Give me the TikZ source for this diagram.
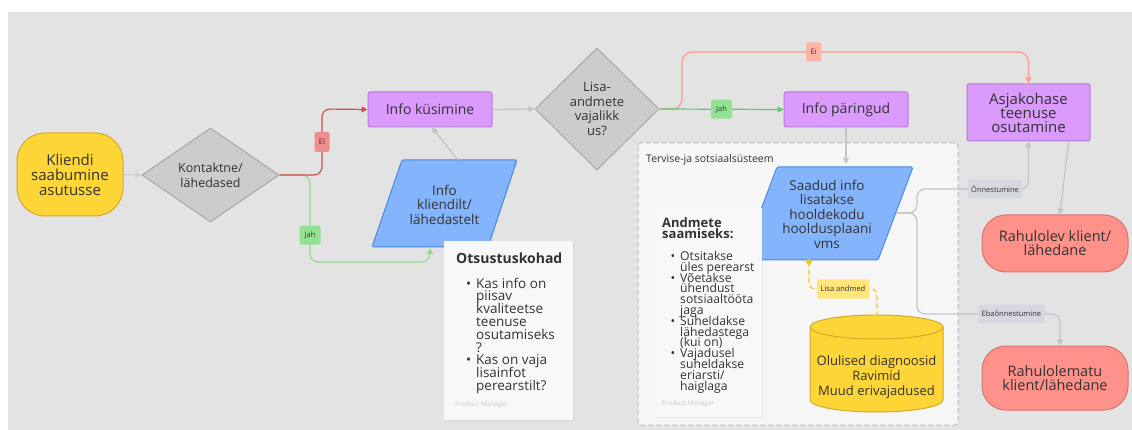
\documentclass[tikz,border=0pt]{standalone}
\usepackage{fontspec}
\setmainfont{Open Sans}
\usetikzlibrary{arrows.meta,shadows,shapes.geometric}

\definecolor{canvas}{HTML}{E3E3E3}
\definecolor{ink}{HTML}{333333}
\definecolor{yelf}{HTML}{FDD536}
\definecolor{yeld}{HTML}{D2A92C}
\definecolor{decf}{HTML}{CECBCC}
\definecolor{decd}{HTML}{A9A7A8}
\definecolor{purf}{HTML}{DA9BFC}
\definecolor{purd}{HTML}{B47AD6}
\definecolor{bluf}{HTML}{84B5FC}
\definecolor{blud}{HTML}{4C87DC}
\definecolor{redf}{HTML}{FF918B}
\definecolor{redd}{HTML}{D6746E}
\definecolor{edgegray}{HTML}{C4C4C4}
\definecolor{noref}{HTML}{F8F8F8}
\definecolor{grpf}{HTML}{F6F6F6}
\definecolor{grpd}{HTML}{BDBDBD}
\definecolor{nored}{HTML}{D24E4C}
\definecolor{noredlbl}{HTML}{F08D8D}
\definecolor{yesg}{HTML}{8EDD8E}
\definecolor{yesglbl}{HTML}{93E193}
\definecolor{yesgdark}{HTML}{5CCB6A}
\definecolor{salm}{HTML}{FF9C8E}
\definecolor{salmlbl}{HTML}{FFB4A4}
\definecolor{neutlbl}{HTML}{D5D9DF}
\definecolor{ydash}{HTML}{F4C526}
\definecolor{ylbl}{HTML}{FFE57A}
\definecolor{faint}{HTML}{C9C9C9}

% bullet hung into the left margin of a line
\newcommand{\blt}{\llap{\textbullet\hspace{5pt}}}
% fixed line pitch, even where lines are tall
\newcommand{\tightlines}{\lineskiplimit=-20pt\relax\lineskip=0pt\relax}

\tikzset{
  box/.style={draw, line width=1pt, inner sep=0pt, align=center, text=ink},
  procbox/.style={box, fill=purf, draw=purd, rounded corners=2pt},
  termbox/.style={box, rounded corners=24pt},
  txt/.style={inner sep=0pt, align=center, text=ink},
  conn/.style={line width=1.2pt, draw=edgegray, -{Triangle[length=6pt,width=6pt]}},
  lbl/.style={inner sep=0pt, rounded corners=2pt, minimum height=19pt, text=ink,
    font=\fontsize{7.5}{8}\selectfont},
  notecard/.style={fill=noref, draw=none,
    drop shadow={shadow xshift=0.6pt, shadow yshift=-1.4pt, opacity=0.13}},
  notetext/.style={anchor=north west, inner sep=0pt, text=ink, align=left},
}

\begin{document}
\begin{tikzpicture}[x=1pt,y=-1pt]
\useasboundingbox (0,0) rectangle (1132,430);
\fill[white] (0,0) rectangle (1132,430);
\fill[canvas] (8,12) rectangle (1132,430);

% ---- left part -------------------------------------------------------
\node[termbox, fill=yelf, draw=yeld, minimum width=106pt, minimum height=83pt,
  rounded corners=28pt, font=\fontsize{15}{15}\selectfont] (start) at (70,174.5)
  {Kliendi\\saabumine\\asutusse};

\node[diamond, draw=decd, fill=decf, line width=1pt, inner sep=0pt,
  minimum width=137pt, minimum height=94pt] (d1) at (210.5,175) {};
\node[txt, font=\fontsize{12.5}{15}\selectfont] at (d1) {Kontaktne/\\lähedased};

\node[procbox, minimum width=124pt, minimum height=35pt,
  font=\fontsize{14}{15}\selectfont] (ik) at (430,109.5) {Info küsimine};

% input parallelogram
\coordinate (p1tl) at (402,160);
\coordinate (p1tr) at (517,160);
\coordinate (p1br) at (488,247);
\coordinate (p1bl) at (372,247);
\filldraw[fill=bluf, draw=blud, line width=1pt, rounded corners=1.5pt]
  (p1tl) -- (p1tr) -- (p1br) -- (p1bl) -- cycle;
\node[txt, font=\fontsize{13.5}{14.5}\selectfont] (p1) at (444.5,204.5)
  {Info\\kliendilt/\\lähedastelt};
\coordinate (p1top) at (458,160);
\coordinate (p1bot) at (430,248);

\node[diamond, draw=decd, fill=decf, line width=1pt, inner sep=0pt,
  minimum width=124pt, minimum height=122pt] (d2) at (597,109) {};
\node[txt, font=\fontsize{13}{14.5}\selectfont] at (d2) {Lisa-\\andmete\\vajalikk\\us?};

% decision note
\path[notecard] (444,241) rectangle (573,420);
\node[anchor=west, inner sep=0pt, text=ink, font=\bfseries\fontsize{14}{15}\selectfont]
  (n1t) at (456,258) {Otsustuskohad};
\node[notetext, font=\fontsize{13.5}{12.8}\selectfont\tightlines]
  (n1b) at (476,277.5)
  {\blt Kas info on\\piisav\\kvaliteetse\\teenuse\\osutamiseks\\?\\
   \blt Kas on vaja\\lisainfot\\perearstilt?};
\node[anchor=west, inner sep=0pt, text=faint, font=\fontsize{6.5}{7}\selectfont]
  (n1f) at (455,405) {Product Manager};

% ---- health and social system group ----------------------------------
\filldraw[fill=grpf, draw=grpd, line width=1pt, dash pattern=on 5pt off 3pt,
  rounded corners=3pt] (638,143) rectangle (958,425);
\node[anchor=west, inner sep=0pt, text=ink, font=\fontsize{10.5}{11}\selectfont]
  (grp) at (646,160) {Tervise-ja sotsiaalsüsteem};

\coordinate (p2tl) at (777,167);
\coordinate (p2tr) at (913,167);
\coordinate (p2br) at (878,260);
\coordinate (p2bl) at (742,260);
\filldraw[fill=bluf, draw=blud, line width=1pt, rounded corners=1.5pt]
  (p2tl) -- (p2tr) -- (p2br) -- (p2bl) -- cycle;
\node[txt, font=\fontsize{13.5}{14.5}\selectfont] (p2) at (827,214)
  {Saadud info\\lisatakse\\hooldekodu\\hooldusplaani\\vms};
\coordinate (p2top) at (846,167);
\coordinate (p2right) at (896,213);
\coordinate (p2bot) at (809,262);

% data note
\path[notecard] (653,208) rectangle (762,417);
\node[notetext, font=\bfseries\fontsize{13}{11.2}\selectfont\tightlines]
  (n2t) at (662,217) {Andmete\\saamiseks:};
\node[notetext, font=\fontsize{12.2}{10.8}\selectfont\tightlines]
  (n2b) at (680,251)
  {\blt Otsitakse\\üles perearst\\
   \blt Võetakse\\ühendust\\sotsiaaltööta\\jaga\\
   \blt Suheldakse\\lähedastega\\(kui on)\\
   \blt Vajadusel\\suheldakse\\eriarsti/\\haiglaga};
\node[anchor=west, inner sep=0pt, text=faint, font=\fontsize{6.5}{7}\selectfont]
  (n2f) at (662,404) {Product Manager};

% database cylinder
\filldraw[fill=yelf, draw=yeld, line width=1pt]
  (810,327) -- (810,400) arc[start angle=180, end angle=0, x radius=66.5, y radius=12]
  -- (943,327) arc[start angle=0, end angle=-180, x radius=66.5, y radius=12] -- cycle;
\draw[draw=yeld, line width=1pt]
  (810,327) arc[start angle=180, end angle=0, x radius=66.5, y radius=12];
\node[txt, font=\fontsize{13}{15}\selectfont] (db) at (876.5,377)
  {Olulised diagnoosid\\Ravimid\\Muud erivajadused};
\coordinate (dbtop) at (877,316);

% ---- right part ------------------------------------------------------
\node[procbox, minimum width=124pt, minimum height=35pt,
  font=\fontsize{14}{15}\selectfont] (ip) at (846,109.5) {Info päringud};
\node[procbox, minimum width=123pt, minimum height=57pt,
  font=\fontsize{15}{14}\selectfont] (aj) at (1028.5,112.5) {Asjakohase\\teenuse\\osutamine};
\node[termbox, fill=redf, draw=redd, minimum width=146pt, minimum height=57pt,
  font=\fontsize{14.5}{14}\selectfont] (rl) at (1055,243.5) {Rahulolev klient/\\lähedane};
\node[termbox, fill=redf, draw=redd, minimum width=146pt, minimum height=64pt,
  font=\fontsize{14.5}{14}\selectfont] (rm) at (1055,378) {Rahulolematu\\klient/lähedane};

% ---- connectors ------------------------------------------------------
\draw[conn, draw=edgegray!80] (start.east) -- (d1.west);

\draw[conn, draw=yesg, rounded corners=8pt] (d1.east) -- (310,175)
  -- node[lbl, fill=yesglbl, minimum width=21pt, pos=0.69] {Jah} (310,262)
  -- (430,262) -- (p1bot);
\draw[conn, draw=nored, rounded corners=8pt] (d1.east) -- (322,175)
  -- node[lbl, fill=noredlbl, minimum width=15pt, minimum height=20pt] {EI} (322,109)
  -- (ik.west);

\draw[conn] (p1top) -- ([xshift=2pt]ik.south);
\draw[conn] (ik.east) -- (d2.west);

\draw[conn, draw=salm, rounded corners=10pt] (d2.east) -- (682,109) -- (682,52)
  -- node[lbl, fill=salmlbl, minimum width=15pt, pos=0.38] {Ei} (1028.5,52)
  -- (aj.north);
\draw[conn, draw=yesgdark] (d2.east)
  -- node[lbl, fill=yesglbl, minimum width=21pt, pos=0.5] {Jah} (ip.west);

\draw[conn] (ip.south) -- ([yshift=3pt]p2top);

\draw[conn, rounded corners=8pt] (p2right) -- (917,213) -- (917,189)
  -- node[lbl, fill=neutlbl, minimum width=54pt, pos=0.70] {Önnestumine} (1028.5,189)
  -- (aj.south);
\draw[conn, rounded corners=8pt] (p2right) -- (917,213) -- (917,314)
  -- node[lbl, fill=neutlbl, minimum width=66pt, pos=0.66] {Ebaõnnestumine} (1060,314)
  -- ([xshift=5pt]rm.north);
\draw[conn] ([xshift=40pt]aj.south) -- ([xshift=5pt]rl.north);

\draw[line width=1.2pt, draw=ydash, dash pattern=on 5pt off 3pt, rounded corners=6pt]
  (p2bot) -- (809,289)
  -- node[lbl, fill=ylbl, minimum width=52pt, pos=0.5] {Lisa andmed} (877,289)
  -- (dbtop);
\node[diamond, fill=ydash, inner sep=0pt, minimum size=7pt] (mk) at (p2bot) {};
\end{tikzpicture}
\end{document}
